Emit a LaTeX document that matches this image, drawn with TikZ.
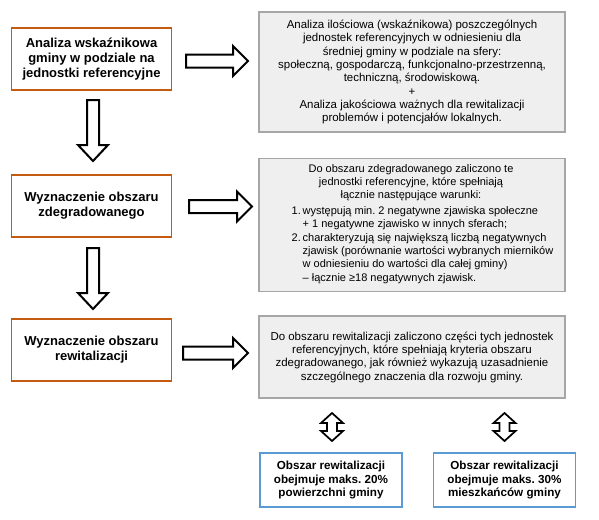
\documentclass[tikz,border=0pt]{standalone}
\usepackage{fontspec}
\setmainfont{Liberation Sans}
\usetikzlibrary{calc}
\frenchspacing
\definecolor{orangeb}{RGB}{197,90,17}
\definecolor{blueb}{RGB}{91,155,213}
\definecolor{grayb}{RGB}{166,166,166}
\definecolor{grayf}{RGB}{239,239,239}
\tikzset{
 leftbox/.style={draw=orangeb, line width=0.9pt, minimum width=120pt, minimum height=46.5pt, inner sep=0pt, align=center, font=\fontsize{9.75}{11.4}\selectfont\bfseries},
 rightbox/.style={draw=grayb, fill=grayf, line width=1pt, minimum width=229.5pt, inner sep=0pt},
 bottombox/.style={draw=blueb, line width=0.9pt, minimum width=106.5pt, minimum height=40.5pt, inner sep=0pt, align=center, font=\fontsize{8.75}{10}\selectfont\bfseries},
 txt/.style={inner sep=0pt, align=center, font=\fontsize{8.6}{10}\selectfont},
 smalltxt/.style={inner sep=0pt, align=center, font=\fontsize{8.25}{10}\selectfont},
 blockarrow/.style={draw=black, line width=1.5pt, fill=white, line join=miter},
}
\newcommand{\hblockarrow}[2]{\draw[blockarrow] ($(#1)+(0,-6.5)$) -- ($(#2)+(-15,-6.5)$) -- ($(#2)+(-15,-15)$) -- (#2) -- ($(#2)+(-15,15)$) -- ($(#2)+(-15,6.5)$) -- ($(#1)+(0,6.5)$) -- cycle;}
\newcommand{\vblockarrow}[2]{\draw[blockarrow] ($(#1)+(-6,0)$) -- ($(#2)+(-6,-16)$) -- ($(#2)+(-15,-16)$) -- (#2) -- ($(#2)+(15,-16)$) -- ($(#2)+(6,-16)$) -- ($(#1)+(6,0)$) -- cycle;}
\newcommand{\dblockarrow}[2]{\draw[blockarrow, line width=1.3pt] (#1) -- ($(#1)+(11,10)$) -- ($(#1)+(5,10)$) -- ($(#2)+(5,-10)$) -- ($(#2)+(11,-10)$) -- (#2) -- ($(#2)+(-11,-10)$) -- ($(#2)+(-5,-10)$) -- ($(#1)+(-5,10)$) -- ($(#1)+(-11,10)$) -- cycle;}
\begin{document}
\begin{tikzpicture}[x=0.75pt, y=-0.75pt]
\useasboundingbox[fill=white] (0,0) rectangle (599,519);
% left column
\node[leftbox] (b1) at (91.5,59) {Analiza wskaźnikowa\\gminy w podziale na\\jednostki referencyjne};
\node[leftbox] (b2) at (91.5,206) {Wyznaczenie obszaru\\zdegradowanego};
\node[leftbox] (b3) at (91.5,350) {Wyznaczenie obszaru\\rewitalizacji};
% right column
\node[rightbox, txt, minimum height=90pt] (ra) at (412,72) {Analiza ilościowa (wskaźnikowa) poszczególnych\\jednostek referencyjnych w odniesieniu dla\\średniej gminy w podziale na sfery:\\społeczną, gospodarczą, funkcjonalno-przestrzenną,\\techniczną, środowiskową.\\+\\Analiza jakościowa ważnych dla rewitalizacji\\problemów i potencjałów lokalnych.};
\node[rightbox, minimum height=99.75pt] (rb) at (412,225) {};
\node[smalltxt, anchor=north] (rbh) at (411,164) {Do obszaru zdegradowanego zaliczono te\\jednostki referencyjne, które spełniają\\łącznie następujące warunki:};
\node[smalltxt, anchor=north, align=left] (rbl) at (422.5,205) {\begin{tabular}{@{}l@{\,}l@{}}
1. & występują min. 2 negatywne zjawiska społeczne\\
 & + 1 negatywne zjawisko w innych sferach;\\
2. & charakteryzują się największą liczbą negatywnych\\
 & zjawisk (porównanie wartości wybranych mierników\\
 & w odniesieniu do wartości dla całej gminy)\\
 & – łącznie ≥18 negatywnych zjawisk.
\end{tabular}};
\node[rightbox, txt, minimum height=61.5pt] (rc) at (412,357) {Do obszaru rewitalizacji zaliczono części tych jednostek\\referencyjnych, które spełniają kryteria obszaru\\zdegradowanego, jak również wykazują uzasadnienie\\szczególnego znaczenia dla rozwoju gminy.};
% bottom boxes
\node[bottombox] (bd) at (331,480) {Obszar rewitalizacji\\obejmuje maks. 20\%\\powierzchni gminy};
\node[bottombox] (be) at (504.5,480) {Obszar rewitalizacji\\obejmuje maks. 30\%\\mieszkańców gminy};
% arrow end points
\coordinate (r1s) at (186,61);   \coordinate (r1e) at (248,61);
\coordinate (r2s) at (189,206.5); \coordinate (r2e) at (252,206.5);
\coordinate (r3s) at (183,353);  \coordinate (r3e) at (248,353);
\coordinate (d1s) at (93,100);   \coordinate (d1e) at (93,161);
\coordinate (d2s) at (93,248);   \coordinate (d2e) at (93,309);
\coordinate (u1s) at (332,413);  \coordinate (u1e) at (332,441);
\coordinate (u2s) at (504.5,413); \coordinate (u2e) at (504.5,441);
\hblockarrow{r1s}{r1e}
\hblockarrow{r2s}{r2e}
\hblockarrow{r3s}{r3e}
\vblockarrow{d1s}{d1e}
\vblockarrow{d2s}{d2e}
\dblockarrow{u1s}{u1e}
\dblockarrow{u2s}{u2e}
\end{tikzpicture}
\end{document}
